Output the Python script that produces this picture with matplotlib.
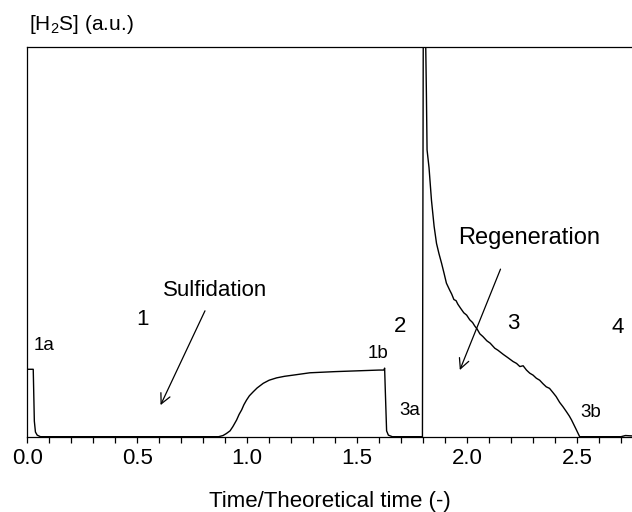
import matplotlib
matplotlib.use("Agg")
import matplotlib.pyplot as plt
from matplotlib.ticker import MultipleLocator, FormatStrFormatter

plt.rcParams['font.family'] = ['Liberation Sans', 'DejaVu Sans']
plt.rcParams['mathtext.fontset'] = 'custom'
plt.rcParams['mathtext.rm'] = 'Liberation Sans'
plt.rcParams['mathtext.it'] = 'Liberation Sans'
plt.rcParams['mathtext.default'] = 'regular'

# ---- data (signal in arbitrary units, axis top = 1) ----
time = [0.000, 0.027, 0.029, 0.032, 0.037, 0.045, 0.060,
        0.870, 0.890, 0.905, 0.922, 0.935, 0.952, 0.963, 0.975, 0.985, 0.997,
        1.010, 1.027, 1.045, 1.073, 1.100, 1.134, 1.170, 1.209, 1.285, 1.400,
        1.500, 1.600, 1.622, 1.625, 1.628, 1.634, 1.642, 1.660,
        1.797, 1.802, 1.812, 1.815, 1.818, 1.827, 1.838, 1.850, 1.861, 1.872,
        1.884, 1.895, 1.906, 1.921, 1.930, 1.940, 1.950, 1.958, 1.970, 1.985,
        1.998, 2.012, 2.025, 2.035, 2.046, 2.058, 2.072, 2.090, 2.105, 2.126,
        2.140, 2.165, 2.185, 2.209, 2.225, 2.240, 2.255, 2.270, 2.285, 2.300,
        2.315, 2.330, 2.345, 2.360, 2.375, 2.391, 2.405, 2.421, 2.436, 2.452,
        2.465, 2.475, 2.495, 2.512, 2.700, 2.720, 2.750]
h2s = [0.173, 0.173, 0.120, 0.040, 0.012, 0.004, 0.000,
       0.000, 0.003, 0.008, 0.015, 0.026, 0.043, 0.057, 0.069, 0.082, 0.094,
       0.105, 0.115, 0.125, 0.137, 0.145, 0.151, 0.155, 0.158, 0.164, 0.167,
       0.169, 0.171, 0.171, 0.176, 0.120, 0.015, 0.004, 0.000,
       0.000, 1.400, 1.000, 0.880, 0.736, 0.690, 0.607, 0.540, 0.496, 0.470,
       0.445, 0.420, 0.394, 0.376, 0.366, 0.352, 0.349, 0.340, 0.330, 0.318,
       0.312, 0.300, 0.293, 0.284, 0.276, 0.264, 0.257, 0.246, 0.240, 0.227,
       0.222, 0.211, 0.203, 0.193, 0.188, 0.180, 0.182, 0.171, 0.163, 0.158,
       0.150, 0.145, 0.136, 0.128, 0.124, 0.113, 0.103, 0.088, 0.077, 0.064,
       0.053, 0.043, 0.020, 0.000, 0.000, 0.003, 0.002]

region_labels = ["1", "2", "3", "4"]
region_x = [0.524, 1.697, 2.212, 2.685]
region_y = [0.301, 0.282, 0.291, 0.280]

point_labels = ["1a", "1b", "3a", "3b"]
point_x = [0.076, 1.597, 1.739, 2.561]
point_y = [0.233, 0.214, 0.066, 0.062]

# ---- figure ----
fig = plt.figure(figsize=(6.32, 5.12), dpi=100)
ax = fig.add_axes([27.3 / 632, 75.3 / 512, 1 - 27.3 / 632, 389.7 / 512])

ax.plot(time, h2s, color='black', lw=1.0)

ax.set_xlim(0, 2.75)
ax.set_ylim(0, 1)
ax.set_yticks([])
ax.xaxis.set_major_locator(MultipleLocator(0.5))
ax.xaxis.set_minor_locator(MultipleLocator(0.1))
ax.xaxis.set_major_formatter(FormatStrFormatter('%.1f'))
ax.tick_params(axis='x', which='both', direction='out', length=4, width=0.9,
               labelsize=16, pad=4)
for s in ['left', 'top', 'bottom']:
    ax.spines[s].set_linewidth(0.9)
ax.spines['right'].set_visible(False)

ax.set_xlabel("Time/Theoretical time (-)", fontsize=16, labelpad=16)
fig.text(29 / 632, 1 - 24 / 512, "[H$_2$S] (a.u.)", fontsize=15,
         ha='left', va='center')

for lab, x, y in zip(region_labels, region_x, region_y):
    ax.text(x, y, lab, fontsize=16, ha='center', va='center')
for lab, x, y in zip(point_labels, point_x, point_y):
    ax.text(x, y, lab, fontsize=13.5, ha='center', va='center')

ax.text(0.856, 0.375, "Sulfidation", fontsize=16, ha='center', va='center')
ax.annotate("", xy=(0.606, 0.081), xytext=(0.808, 0.323),
            arrowprops=dict(arrowstyle='->', color='black', lw=0.9,
                            shrinkA=0, shrinkB=0, mutation_scale=18))
ax.text(2.280, 0.509, "Regeneration", fontsize=17, ha='center', va='center')
ax.annotate("", xy=(1.967, 0.171), xytext=(2.152, 0.430),
            arrowprops=dict(arrowstyle='->', color='black', lw=0.9,
                            shrinkA=0, shrinkB=0, mutation_scale=18))

fig.savefig("out.png", dpi=100)
